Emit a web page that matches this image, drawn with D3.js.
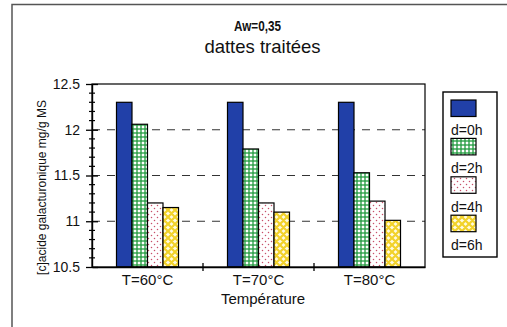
<!DOCTYPE html>
<html><head><meta charset="utf-8">
<script src="https://cdn.jsdelivr.net/npm/d3@7"></script>
<style>body{margin:0;background:#fff}svg{display:block;font-family:Arial,"Liberation Sans",sans-serif}</style>
</head><body>
<script>
const categories = ["T=60°C", "T=70°C", "T=80°C"];
const series = ["d=0h", "d=2h", "d=4h", "d=6h"];
const d0h = [12.30, 12.30, 12.30];
const d2h = [12.06, 11.79, 11.53];
const d4h = [11.20, 11.20, 11.22];
const d6h = [11.15, 11.10, 11.01];
const yTicks = [10.5, 11, 11.5, 12, 12.5];
const yTickLabels = ["10.5", "11", "11.5", "12", "12.5"];
const values = [d0h, d2h, d4h, d6h];

const W = 507, H = 327;
const svg = d3.select("body").append("svg").attr("width", W).attr("height", H);
const defs = svg.append("defs");

// patterns
const pGreen = defs.append("pattern").attr("id","pGreen").attr("patternUnits","userSpaceOnUse").attr("width",4).attr("height",4);
pGreen.append("rect").attr("width",4).attr("height",4).attr("fill","#fff");
pGreen.append("line").attr("x1",1).attr("x2",1).attr("y1",0).attr("y2",4).attr("stroke","#1f9a3c").attr("stroke-width",1.3);
pGreen.append("line").attr("x1",0).attr("x2",4).attr("y1",1).attr("y2",1).attr("stroke","#1f9a3c").attr("stroke-width",1.3);

const pPink = defs.append("pattern").attr("id","pPink").attr("patternUnits","userSpaceOnUse").attr("width",6).attr("height",6);
pPink.append("rect").attr("width",6).attr("height",6).attr("fill","#fff");
pPink.append("circle").attr("cx",1.5).attr("cy",1.5).attr("r",0.75).attr("fill","#c8506a");
pPink.append("circle").attr("cx",4.5).attr("cy",4.5).attr("r",0.75).attr("fill","#c8506a");

const pYellow = defs.append("pattern").attr("id","pYellow").attr("patternUnits","userSpaceOnUse").attr("width",7).attr("height",7);
pYellow.append("rect").attr("width",7).attr("height",7).attr("fill","#fffbe0");
pYellow.append("path").attr("d","M0,0L7,7M7,0L0,7M-1,6L1,8M6,-1L8,1M-1,1L1,-1M6,8L8,6").attr("stroke","#f2d22a").attr("stroke-width",2.2);

const fills = ["#2140a8", "url(#pGreen)", "url(#pPink)", "url(#pYellow)"];

// outer frame
svg.append("path").attr("d","M12,330V4.5H510").attr("fill","none").attr("stroke","#555").attr("stroke-width",1.5);

const L = 92, R = 425, T = 84, B = 267;
const x = d3.scaleBand().domain(categories).range([L, R]).padding(0);
const xs = d3.scaleBand().domain(series).range([0, x.bandwidth()]).paddingInner(0).paddingOuter(1.58);
const y = d3.scaleLinear().domain([10.5, 12.5]).range([B, T]);

// gridlines
svg.append("g").selectAll("line").data([11, 11.5, 12]).join("line")
  .attr("x1", L).attr("x2", R).attr("y1", d => y(d)).attr("y2", d => y(d))
  .attr("stroke", "#333").attr("stroke-width", 1).attr("stroke-dasharray", "8,7");

// bars
series.forEach((s, i) => {
  svg.append("g").selectAll("rect").data(categories).join("rect")
    .attr("x", c => x(c) + xs(s))
    .attr("y", (c, j) => y(values[i][j]))
    .attr("width", xs.bandwidth())
    .attr("height", (c, j) => B - y(values[i][j]))
    .attr("fill", fills[i]).attr("stroke", "#000").attr("stroke-width", 1.2);
});

// plot border
svg.append("rect").attr("x", L).attr("y", T).attr("width", R - L).attr("height", B - T)
  .attr("fill", "none").attr("stroke", "#000").attr("stroke-width", 1.2);

// y axis
const yAxis = d3.axisLeft(y).tickValues(yTicks).tickFormat((d, i) => yTickLabels[i]).tickSizeInner(6).tickSizeOuter(0).tickPadding(6);
const gy = svg.append("g").attr("transform", `translate(${L},0)`).call(yAxis);
gy.select(".domain").attr("stroke", "#000").attr("stroke-width", 1.4);
gy.selectAll(".tick line").attr("x2", 6).attr("x1", -6).attr("stroke-width", 1.3);
gy.selectAll(".tick text").attr("font-size", 14).attr("font-family", "Arial, 'Liberation Sans', sans-serif").attr("fill", "#111").attr("x", -12);
const minor = d3.range(10.6, 12.5, 0.1).filter(v => Math.abs(v * 2 - Math.round(v * 2)) > 0.01);
svg.append("g").selectAll("line").data(minor).join("line")
  .attr("x1", L - 3).attr("x2", L + 3).attr("y1", d => y(d)).attr("y2", d => y(d))
  .attr("stroke", "#000").attr("stroke-width", 1.2);

// x axis
const xAxis = d3.axisBottom(x).tickSize(0).tickPadding(7);
const gx = svg.append("g").attr("transform", `translate(0,${B})`).call(xAxis);
gx.select(".domain").attr("stroke", "#000").attr("stroke-width", 1.4);
gx.selectAll(".tick text").attr("font-size", 15).attr("font-family", "Arial, 'Liberation Sans', sans-serif").attr("fill", "#111");
svg.append("g").selectAll("line").data(categories.slice(1)).join("line")
  .attr("x1", c => x(c)).attr("x2", c => x(c)).attr("y1", B - 4).attr("y2", B + 4)
  .attr("stroke", "#000").attr("stroke-width", 1.3);

// axis titles
svg.append("text").attr("x", 263).attr("y", 304).attr("text-anchor", "middle")
  .attr("font-size", 15).attr("fill", "#111").text("Température");
svg.append("text").attr("transform", "translate(46,187.5) rotate(-90)").attr("text-anchor", "middle")
  .attr("font-size", 12).attr("fill", "#111").text("[c]acide galacturonique mg/g MS");

// titles
svg.append("text").attr("x", 257.5).attr("y", 31).attr("text-anchor", "middle")
  .attr("font-size", 15).attr("font-weight", "bold").attr("textLength", 47).attr("lengthAdjust", "spacingAndGlyphs")
  .attr("fill", "#111").text("Aw=0,35");
svg.append("text").attr("x", 262.5).attr("y", 53).attr("text-anchor", "middle")
  .attr("font-size", 18.5).attr("fill", "#111").text("dattes traitées");

// legend
const lg = svg.append("g");
lg.append("rect").attr("x", 443).attr("y", 92).attr("width", 54).attr("height", 165)
  .attr("fill", "#fff").attr("stroke", "#000").attr("stroke-width", 1.4);
const ly = d3.scaleBand().domain(series).range([100, 100 + 4 * 38.4]);
series.forEach((s, i) => {
  lg.append("rect").attr("x", 451).attr("y", ly(s)).attr("width", 25).attr("height", 16.5)
    .attr("fill", fills[i]).attr("stroke", "#000").attr("stroke-width", 1.2);
  lg.append("text").attr("x", 451).attr("y", ly(s) + 35).attr("font-size", 14).attr("fill", "#111").text(s);
});
</script>
</body></html>
